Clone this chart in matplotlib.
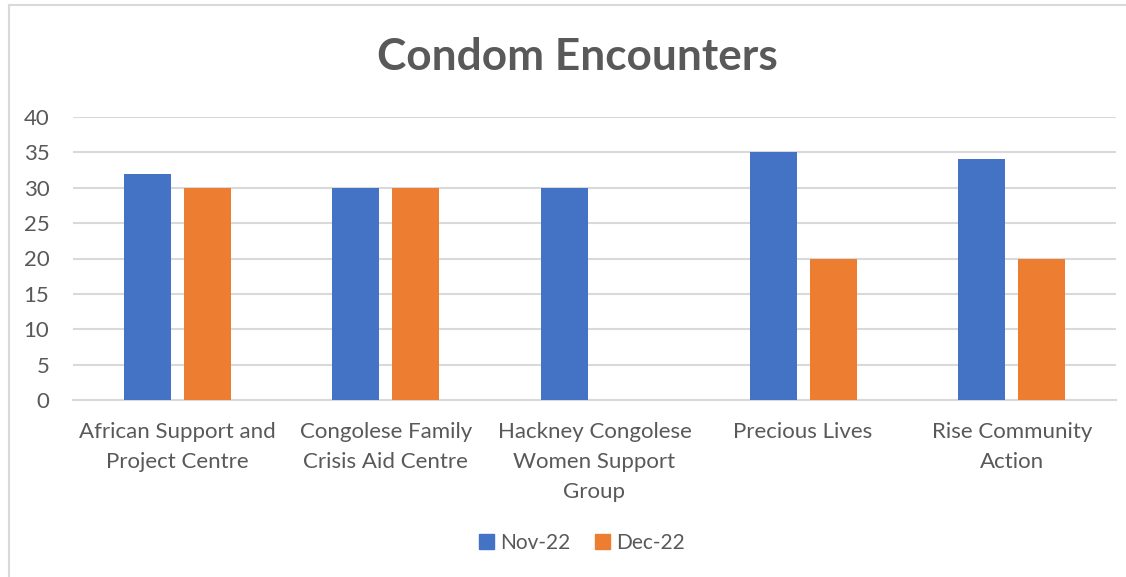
import matplotlib
matplotlib.use("Agg")
import matplotlib.pyplot as plt
from matplotlib.lines import Line2D
from matplotlib.patches import Patch
import numpy as np

categories = ["African Support and\nProject Centre",
              "Congolese Family\nCrisis Aid Centre",
              "Hackney Congolese\nWomen Support\nGroup",
              "Precious Lives",
              "Rise Community\nAction"]
series_names = ["Nov-22", "Dec-22"]
nov_values = [32, 30, 30, 35, 34]
dec_values = [30, 30, 0, 20, 20]
y_ticks = [0, 5, 10, 15, 20, 25, 30, 35, 40]

blue = "#4472C4"
orange = "#ED7D31"
text_col = "#595959"
grid_col = "#D9D9D9"
font = ["Lato", "DejaVu Sans"]

W, H = 1126, 577
fig = plt.figure(figsize=(W / 100, H / 100), dpi=100)
ax = fig.add_axes([73 / W, 1 - 400 / H, (1116 - 73) / W, (400 - 117) / H])

x = np.arange(len(categories))
bw = 0.225
off = 0.1435
ax.bar(x - off, nov_values, width=bw, color=blue, label=series_names[0], zorder=3)
ax.bar(x + off, dec_values, width=bw, color=orange, label=series_names[1], zorder=3)

ax.set_xlim(-0.5, len(categories) - 0.5)
ax.set_ylim(0, 40)
ax.set_yticks(y_ticks)
ax.set_yticklabels([str(v) for v in y_ticks], fontsize=16, color=text_col, family=font)
ax.set_xticks(x)
ax.set_xticklabels(categories, fontsize=16, color=text_col, family=font,
                   linespacing=1.62, va="top")
ax.tick_params(axis="both", length=0)
ax.tick_params(axis="x", pad=16)
ax.tick_params(axis="y", pad=17)
for lab in ax.get_yticklabels():
    lab.set_horizontalalignment("right")

ax.grid(axis="y", color=grid_col, linewidth=1.5, zorder=0)
for s in ["top", "right", "left"]:
    ax.spines[s].set_visible(False)
ax.spines["bottom"].set_color(grid_col)
ax.spines["bottom"].set_linewidth(1.5)
ax.spines["bottom"].set_zorder(1)

fig.text(577 / W, 1 - 57 / H, "Condom Encounters", fontsize=31.8, fontweight="bold",
         color=text_col, family=font, ha="center", va="center")

handles = [Patch(color=blue, label=series_names[0]), Patch(color=orange, label=series_names[1])]
fig.legend(handles=handles, loc="center", bbox_to_anchor=(582 / W, 1 - 543 / H), ncol=2,
           frameon=False, prop={"family": font, "size": 15}, labelcolor=text_col,
           handlelength=0.7, handleheight=0.7, handletextpad=0.3, columnspacing=1.2)

# outer chart frame (left and top edges)
fig.add_artist(Line2D([9 / W, 9 / W], [0, 1 - 5 / H], color=grid_col, linewidth=1.5, transform=fig.transFigure))
fig.add_artist(Line2D([9 / W, 1], [1 - 5 / H, 1 - 5 / H], color=grid_col, linewidth=1.5, transform=fig.transFigure))

fig.savefig("out.png", dpi=100, facecolor="white")
